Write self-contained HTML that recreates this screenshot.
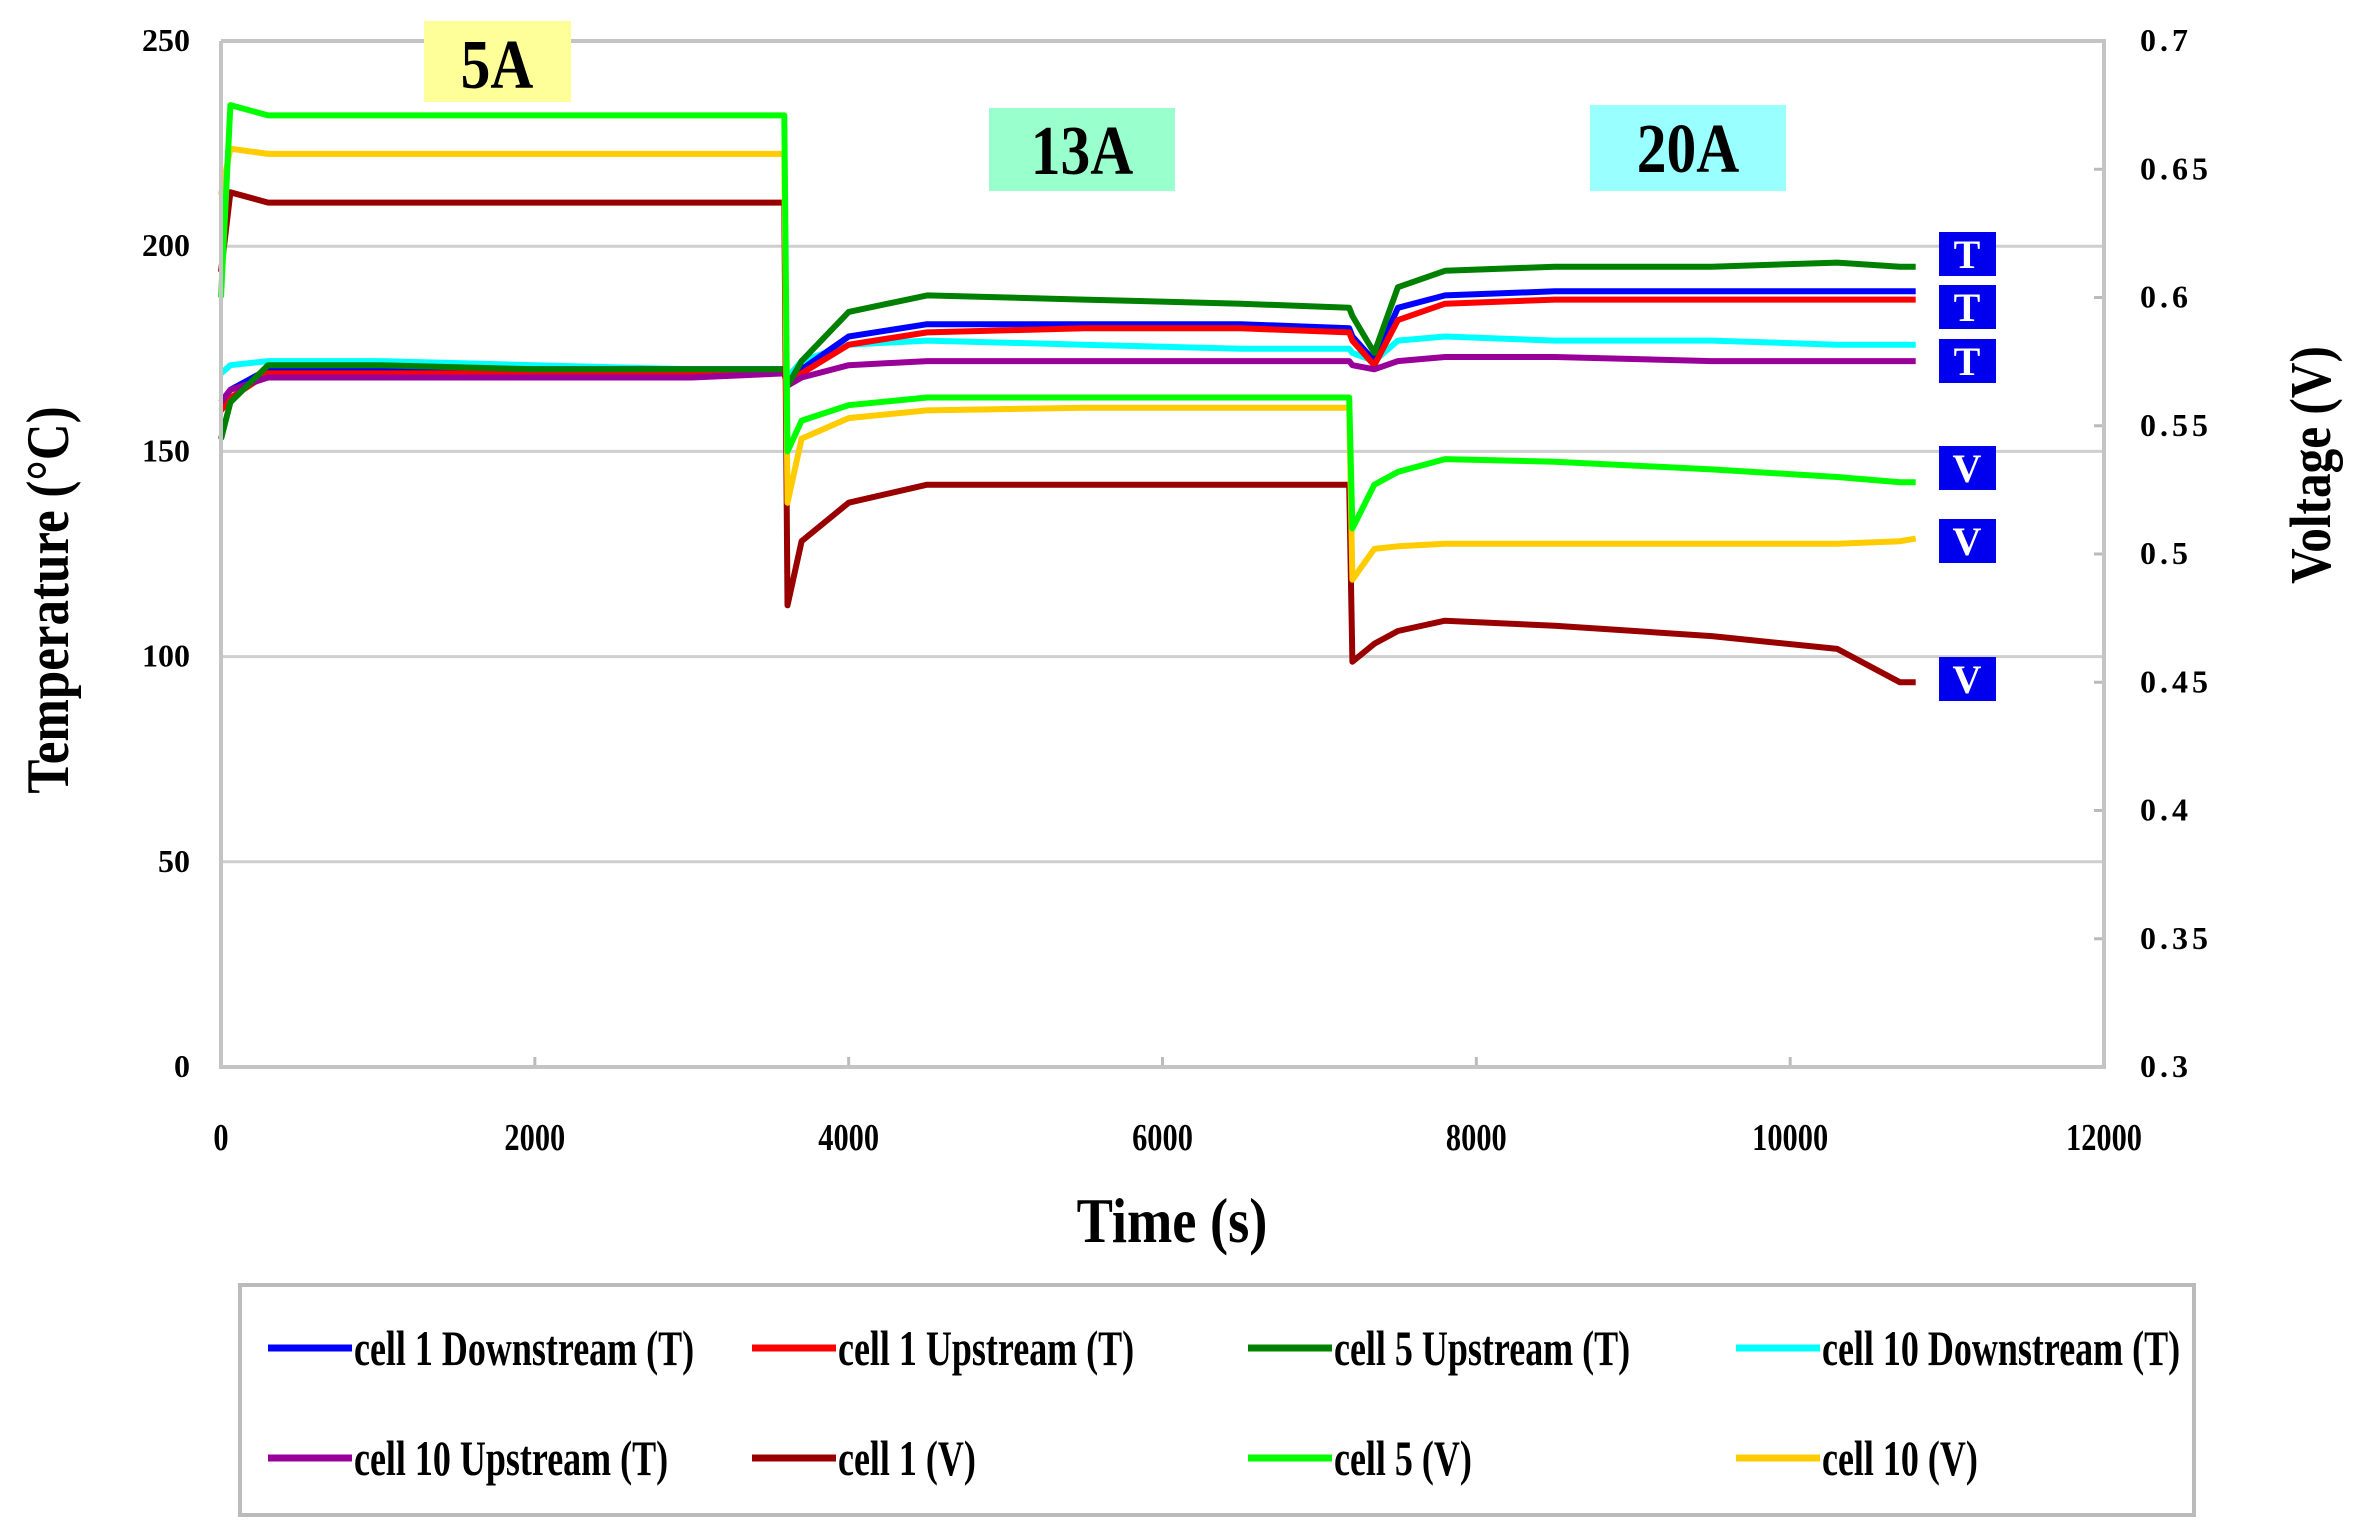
<!DOCTYPE html>
<html><head><meta charset="utf-8"><style>
html,body{margin:0;padding:0;background:#fff;}
svg{display:block;font-family:"Liberation Serif",serif;font-weight:bold;}
</style></head><body>
<svg id="chart" width="2357" height="1535" viewBox="0 0 2357 1535" xmlns="http://www.w3.org/2000/svg">
<g id="grid"></g>
<g id="series"></g>
<g id="axes"></g>
<g id="ann">
  <rect x="424" y="21" width="147" height="81" fill="#ffff99"/>
  <text x="497" y="88" font-size="70" text-anchor="middle" transform="translate(497 0) scale(0.85 1) translate(-497 0)">5A</text>
  <rect x="989" y="108" width="186" height="83" fill="#99ffcc"/>
  <text x="1082" y="174" font-size="70" text-anchor="middle" transform="translate(1082 0) scale(0.85 1) translate(-1082 0)">13A</text>
  <rect x="1590" y="105" width="196" height="86" fill="#99ffff"/>
  <text x="1688" y="172" font-size="70" text-anchor="middle" transform="translate(1688 0) scale(0.85 1) translate(-1688 0)">20A</text>
</g>
<g id="tags"></g>
<g id="legend">
  <rect x="240" y="1285" width="1954" height="230" fill="#fff" stroke="#bbb" stroke-width="4"/>
</g>
</svg>
<script>
const times = [0, 60, 300, 1000, 2000, 3000, 3590, 3610, 3700, 4000, 4500, 5500, 6500, 7190, 7210, 7350, 7500, 7800, 8500, 9500, 10300, 10700, 10800];
const cell1DownT = [162,165,170,170,170,170,170,167,170,178,181,181,181,180,178,172,185,188,189,189,189,189,189];
const cell1UpT = [160,163,169,169,169,169,169,166,169,176,179,180,180,179,177,171,182,186,187,187,187,187,187];
const cell5UpT = [153,162,171,171,170,170,170,166,172,184,188,187,186,185,183,174,190,194,195,195,196,195,195];
const cell10DownT = [169,171,172,172,171,170,170,168,172,176,177,176,175,175,174,172,177,178,177,177,176,176,176];
const cell10UpT = [162,165,168,168,168,168,169,166,168,171,172,172,172,172,171,170,172,173,173,172,172,172,172];
const cell1V = [0.61,0.641,0.637,0.637,0.637,0.637,0.637,0.48,0.505,0.52,0.527,0.527,0.527,0.527,0.458,0.465,0.470,0.474,0.472,0.468,0.463,0.450,0.450];
const cell5V = [0.60,0.675,0.671,0.671,0.671,0.671,0.671,0.54,0.552,0.558,0.561,0.561,0.561,0.561,0.51,0.527,0.532,0.537,0.536,0.533,0.530,0.528,0.528];
const cell10V = [0.64,0.658,0.656,0.656,0.656,0.656,0.656,0.52,0.545,0.553,0.556,0.557,0.557,0.557,0.49,0.502,0.503,0.504,0.504,0.504,0.504,0.505,0.506];
const xTicks = [0,2000,4000,6000,8000,10000,12000];
const yTicks = [0,50,100,150,200,250];
const vTicks = ["0.3","0.35","0.4","0.45","0.5","0.55","0.6","0.65","0.7"];
const legendLabels = ["cell 1 Downstream (T)","cell 1 Upstream (T)","cell 5 Upstream (T)","cell 10 Downstream (T)","cell 10 Upstream (T)","cell 1  (V)","cell 5  (V)","cell 10  (V)"];
const tagLabels = ["T","T","T","V","V","V"];

const L=221,R=2104,T=41,B=1067;
const xs=t=>L+(t/12000)*(R-L);
const yT=v=>B-(v/250)*(B-T);
const yV=v=>B-((v-0.3)/0.4)*(B-T);
const NS="http://www.w3.org/2000/svg";
function mk(tag,attrs,parent,text){const e=document.createElementNS(NS,tag);for(const k in attrs)e.setAttribute(k,attrs[k]);if(text!==undefined)e.textContent=text;parent.appendChild(e);return e;}
const grid=document.getElementById('grid'),axes=document.getElementById('axes'),ser=document.getElementById('series'),tags=document.getElementById('tags'),leg=document.getElementById('legend');

yTicks.forEach(v=>{
  if(v>0){const g=mk('line',{x1:L,x2:R,y1:yT(v),y2:yT(v),stroke:'#cfcfcf','stroke-width':3},grid);
  
  }
  const t=mk('text',{x:190,y:yT(v)+10,'font-size':32,'text-anchor':'end'},axes,String(v));
  
  
});
vTicks.forEach(s=>{
  const v=parseFloat(s);
  const tk=mk('line',{x1:R-10,x2:R,y1:yV(v),y2:yV(v),stroke:'#bbb','stroke-width':3},axes);
  
  
  const t=mk('text',{x:2140,y:yV(v)+10,'font-size':32,'letter-spacing':'4'},axes,s);
  
  
});
xTicks.forEach(v=>{
  const tk=mk('line',{x1:xs(v),x2:xs(v),y1:B-10,y2:B,stroke:'#bbb','stroke-width':3},axes);
  
  
  const t=mk('text',{x:xs(v),y:1150,'font-size':38,'text-anchor':'middle',transform:`translate(${xs(v)} 0) scale(0.8 1) translate(${-xs(v)} 0)`},axes,String(v));
  
  
});
const frame=mk('path',{d:`M${L},${T} L${L},${B} L${R},${B} L${R},${T} L${L},${T}`,fill:'none',stroke:'#c4c4c4','stroke-width':4},axes);



const xt=mk('text',{x:1172,y:1242,'font-size':64,'text-anchor':'middle',transform:'translate(1172 0) scale(0.85 1) translate(-1172 0)'},axes,'Time (s)');


const yt=mk('text',{x:0,y:0,'font-size':60,'text-anchor':'middle',transform:'translate(68 600) rotate(-90) scale(0.85 1)'},axes,'Temperature (°C)');


const vt=mk('text',{x:0,y:0,'font-size':58,'text-anchor':'middle',transform:'translate(2330 465) rotate(-90) scale(0.85 1)'},axes,'Voltage (V)');



const series=[
 {vals:cell1DownT,y:yT,c:'#0000ff',n:'cell1-downstream-t'},
 {vals:cell1UpT,y:yT,c:'#ff0000',n:'cell1-upstream-t'},
 {vals:cell5UpT,y:yT,c:'#008000',n:'cell5-upstream-t'},
 {vals:cell10DownT,y:yT,c:'#00ffff',n:'cell10-downstream-t'},
 {vals:cell10UpT,y:yT,c:'#990099',n:'cell10-upstream-t'},
 {vals:cell1V,y:yV,c:'#990000',n:'cell1-v'},
 {vals:cell5V,y:yV,c:'#00ff00',n:'cell5-v'},
 {vals:cell10V,y:yV,c:'#ffcc00',n:'cell10-v'}
];
const drawOrder=[3,0,1,4,2,5,7,6];
drawOrder.forEach(i=>{const s=series[i];
  const d=s.vals.map((v,j)=>(j?'L':'M')+xs(times[j]).toFixed(1)+','+s.y(v).toFixed(1)).join(' ');
  const p=mk('path',{d:d,fill:'none',stroke:s.c,'stroke-width':6,'stroke-linejoin':'round'},ser);
  
  
});

const tagYs=[254,307,361,468,541,679];
tagLabels.forEach((s,i)=>{
  const r=mk('rect',{x:1939,y:tagYs[i]-22,width:57,height:44,fill:'#0000ee'},tags);
  
  
  const t=mk('text',{x:1967,y:tagYs[i]+14,'font-size':40,fill:'#fff','text-anchor':'middle'},tags,s);
  
  
});

const colX=[268,752,1248,1736],rowY=[1348,1458];
legendLabels.forEach((lab,i)=>{
  const cx=colX[i%4],cy=rowY[Math.floor(i/4)];
  const sw=mk('line',{x1:cx,x2:cx+84,y1:cy,y2:cy,stroke:series[i].c,'stroke-width':7},leg);
  
  
  const tx=cx+86;
  const t=mk('text',{x:tx,y:cy+17,'font-size':50,transform:`translate(${tx} 0) scale(0.72 1) translate(${-tx} 0)`},leg,lab);
  
  
});
</script>
</body></html>
